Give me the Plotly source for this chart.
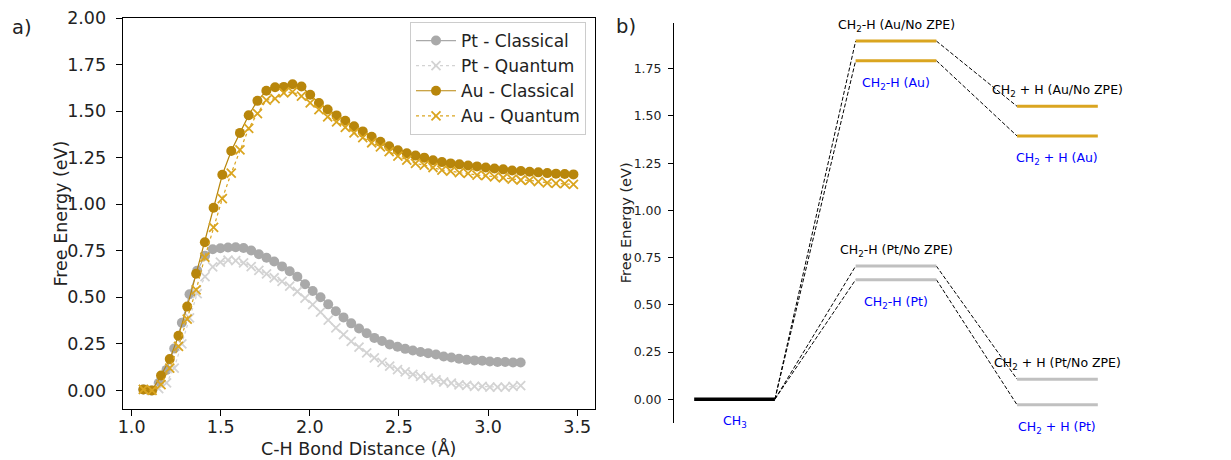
import plotly.graph_objects as go

# ---------------- data: panel a ----------------
au_x = [1.066, 1.115, 1.165, 1.214, 1.263, 1.312, 1.362, 1.411, 1.460, 1.509,
        1.559, 1.608, 1.657, 1.706, 1.756, 1.805, 1.854, 1.903, 1.953, 2.002,
        2.051, 2.100, 2.150, 2.199, 2.248, 2.297, 2.347, 2.396, 2.445, 2.494,
        2.544, 2.593, 2.642, 2.691, 2.741, 2.790, 2.839, 2.888, 2.938, 2.987,
        3.036, 3.085, 3.135, 3.184, 3.233, 3.282, 3.332, 3.381, 3.430, 3.479]
au_classical = [0.005, 0.000, 0.080, 0.168, 0.293, 0.450, 0.626, 0.796, 0.981, 1.158,
                1.286, 1.383, 1.478, 1.555, 1.609, 1.628, 1.630, 1.644, 1.632, 1.588,
                1.543, 1.509, 1.477, 1.448, 1.418, 1.391, 1.362, 1.335, 1.311, 1.290,
                1.274, 1.261, 1.250, 1.236, 1.226, 1.219, 1.214, 1.208, 1.203, 1.197,
                1.192, 1.187, 1.181, 1.178, 1.174, 1.171, 1.167, 1.164, 1.162, 1.160]
au_quantum = [0.005, 0.000, 0.031, 0.120, 0.236, 0.383, 0.540, 0.715, 0.876, 1.030,
              1.167, 1.292, 1.407, 1.487, 1.559, 1.567, 1.598, 1.603, 1.580, 1.544,
              1.508, 1.469, 1.442, 1.412, 1.383, 1.358, 1.330, 1.308, 1.282, 1.258,
              1.237, 1.219, 1.210, 1.197, 1.183, 1.178, 1.169, 1.165, 1.156, 1.153,
              1.147, 1.142, 1.135, 1.130, 1.128, 1.121, 1.115, 1.112, 1.110, 1.106]

pt_x = [1.066, 1.109, 1.152, 1.196, 1.239, 1.282, 1.325, 1.368, 1.412, 1.455,
        1.498, 1.541, 1.584, 1.628, 1.671, 1.714, 1.757, 1.800, 1.844, 1.887,
        1.930, 1.973, 2.016, 2.060, 2.103, 2.146, 2.189, 2.232, 2.276, 2.319,
        2.362, 2.405, 2.448, 2.492, 2.535, 2.578, 2.621, 2.664, 2.708, 2.751,
        2.794, 2.837, 2.880, 2.924, 2.967, 3.010, 3.053, 3.096, 3.140, 3.183]
pt_classical = [0.005, 0.000, 0.040, 0.110, 0.225, 0.363, 0.516, 0.643, 0.723, 0.758,
                0.763, 0.767, 0.769, 0.765, 0.751, 0.731, 0.712, 0.692, 0.666, 0.640,
                0.610, 0.570, 0.534, 0.500, 0.462, 0.425, 0.392, 0.360, 0.332, 0.307,
                0.282, 0.265, 0.247, 0.234, 0.223, 0.214, 0.206, 0.200, 0.193, 0.182,
                0.177, 0.170, 0.164, 0.161, 0.159, 0.155, 0.152, 0.152, 0.150, 0.150]
pt_quantum = [0.005, 0.000, 0.010, 0.040, 0.120, 0.250, 0.390, 0.520, 0.611, 0.663,
              0.689, 0.700, 0.697, 0.685, 0.665, 0.645, 0.626, 0.605, 0.585, 0.560,
              0.531, 0.495, 0.460, 0.420, 0.377, 0.336, 0.299, 0.263, 0.232, 0.202,
              0.174, 0.150, 0.130, 0.112, 0.099, 0.086, 0.075, 0.066, 0.057, 0.045,
              0.039, 0.030, 0.027, 0.021, 0.021, 0.018, 0.018, 0.018, 0.021, 0.025]

# ---------------- data: panel b ----------------
stage_names = ["CH3", "CH2-H", "CH2 + H"]
au_nozpe = [0.0, 1.897, 1.551]
au_zpe = [0.0, 1.793, 1.394]
pt_nozpe = [0.0, 0.705, 0.106]
pt_zpe = [0.0, 0.633, -0.030]

FONT = "DejaVu Sans"
W, H = 1231, 460

C_PT_C = "#a9a9a9"
C_PT_Q = "#d3d3d3"
C_AU_C = "#b8860b"
C_AU_Q = "#daa520"
C_PT_LVL = "#c0c0c0"
C_AU_LVL = "#daa520"

fig = go.Figure()

# ---- panel a traces ----
fig.add_trace(go.Scatter(x=pt_x, y=pt_classical, name="Pt - Classical", mode="lines+markers",
                         line=dict(color=C_PT_C, width=1.2),
                         marker=dict(symbol="circle", size=10, color=C_PT_C),
                         xaxis="x", yaxis="y"))
fig.add_trace(go.Scatter(x=pt_x, y=pt_quantum, name="Pt - Quantum", mode="lines+markers",
                         line=dict(color=C_PT_Q, width=1.2, dash="dot"),
                         marker=dict(symbol="x-thin", size=9, color=C_PT_Q,
                                     line=dict(width=1.8, color=C_PT_Q)),
                         xaxis="x", yaxis="y"))
fig.add_trace(go.Scatter(x=au_x, y=au_classical, name="Au - Classical", mode="lines+markers",
                         line=dict(color=C_AU_C, width=1.2),
                         marker=dict(symbol="circle", size=10, color=C_AU_C),
                         xaxis="x", yaxis="y"))
fig.add_trace(go.Scatter(x=au_x, y=au_quantum, name="Au - Quantum", mode="lines+markers",
                         line=dict(color=C_AU_Q, width=1.2, dash="dot"),
                         marker=dict(symbol="x-thin", size=9, color=C_AU_Q,
                                     line=dict(width=1.8, color=C_AU_Q)),
                         xaxis="x", yaxis="y"))

# ---- panel b traces ----
series_b = [
    (au_nozpe, C_AU_LVL),
    (au_zpe, C_AU_LVL),
    (pt_nozpe, C_PT_LVL),
    (pt_zpe, C_PT_LVL),
]
# dashed connectors
for vals, col in series_b:
    xs, ys = [], []
    for i in range(len(vals) - 1):
        xs += [2 * i + 1, 2 * (i + 1), None]
        ys += [vals[i], vals[i + 1], None]
    fig.add_trace(go.Scatter(x=xs, y=ys, mode="lines", showlegend=False,
                             line=dict(color="black", width=1, dash="4px,2px"),
                             hoverinfo="skip", xaxis="x2", yaxis="y2"))
# levels
for vals, col in series_b:
    xs, ys = [], []
    for i in range(1, len(vals)):
        xs += [2 * i, 2 * i + 1, None]
        ys += [vals[i], vals[i], None]
    fig.add_trace(go.Scatter(x=xs, y=ys, mode="lines", showlegend=False,
                             line=dict(color=col, width=3),
                             xaxis="x2", yaxis="y2"))
fig.add_trace(go.Scatter(x=[0, 1], y=[au_zpe[0], au_zpe[0]], mode="lines", showlegend=False,
                         line=dict(color="black", width=3.5), xaxis="x2", yaxis="y2"))

# level labels
def lab(base):
    return base.replace("CH2", "CH<sub>2</sub>").replace("CH3", "CH<sub>3</sub>")

annotations = []
for i in range(1, 3):
    for vals, metal in ((au_nozpe, "Au"), (pt_nozpe, "Pt")):
        annotations.append(dict(x=2 * i + 0.5, y=vals[i], xref="x2", yref="y2",
                                text=lab(f"{stage_names[i]} ({metal}/No ZPE)"),
                                showarrow=False, yshift=15.5,
                                xanchor="center", yanchor="middle",
                                font=dict(family=FONT, size=12.5, color="black")))
    for vals, metal in ((au_zpe, "Au"), (pt_zpe, "Pt")):
        annotations.append(dict(x=2 * i + 0.5, y=vals[i], xref="x2", yref="y2",
                                text=lab(f"{stage_names[i]} ({metal})"),
                                showarrow=False, yshift=-22.5,
                                xanchor="center", yanchor="middle",
                                font=dict(family=FONT, size=12.5, color="blue")))
annotations.append(dict(x=0.5, y=au_zpe[0], xref="x2", yref="y2", text=lab(stage_names[0]),
                        showarrow=False, yshift=-22, xanchor="center", yanchor="middle",
                        font=dict(family=FONT, size=12.5, color="blue")))

# axis titles and panel letters
def paper_note(px, py, text, size, angle=0):
    return dict(x=px / W, y=(H - py) / H, xref="paper", yref="paper", text=text,
                textangle=angle, showarrow=False, xanchor="center", yanchor="middle",
                font=dict(family=FONT, size=size, color="#222"))

annotations += [
    paper_note(60, 213.5, "Free Energy (eV)", 17.5, -90),
    paper_note(358.5, 448.5, "C-H Bond Distance (Å)", 17.5),
    paper_note(626, 223.3, "Free Energy (eV)", 14.5, -90),
    paper_note(22, 27.5, "a)", 19.5),
    paper_note(626, 26.5, "b)", 19.5),
]

tickfont_a = dict(family=FONT, size=17.5, color="#222")
tickfont_b = dict(family=FONT, size=12.5, color="#222")

fig.update_layout(
    width=W, height=H,
    margin=dict(l=0, r=0, t=0, b=0),
    paper_bgcolor="white", plot_bgcolor="white",
    showlegend=True,
    legend=dict(x=586 / W, y=(H - 22) / H, xanchor="right", yanchor="top",
                bgcolor="rgba(255,255,255,0.85)", bordercolor="#cccccc", borderwidth=1,
                font=dict(family=FONT, size=17, color="#222"),
                itemwidth=40),
    xaxis=dict(domain=[122.7 / W, 595 / W], range=[0.95, 3.60], anchor="y",
               tickvals=[1.0, 1.5, 2.0, 2.5, 3.0, 3.5], tickformat=".1f",
               showline=True, linecolor="black", linewidth=1.2, mirror=True,
               ticks="outside", ticklen=6, tickcolor="black", tickwidth=1.2,
               showgrid=False, zeroline=False, tickfont=tickfont_a, ticklabelstandoff=-4,
               automargin=False),
    yaxis=dict(domain=[(H - 409) / H, (H - 18) / H], range=[-0.1, 2.0], anchor="x",
               tickvals=[0, 0.25, 0.5, 0.75, 1.0, 1.25, 1.5, 1.75, 2.0], tickformat=".2f",
               showline=True, linecolor="black", linewidth=1.2, mirror=True,
               ticks="outside", ticklen=6, tickcolor="black", tickwidth=1.2,
               showgrid=False, zeroline=False, tickfont=tickfont_a, ticklabelstandoff=6,
               automargin=False),
    xaxis2=dict(domain=[674 / W, 1118 / W], range=[-0.25, 5.25], anchor="y2",
                showline=False, showticklabels=False, ticks="", showgrid=False, zeroline=False,
                automargin=False),
    yaxis2=dict(domain=[(H - 423) / H, (H - 22.7) / H], range=[-0.126, 1.994], anchor="x2",
                tickvals=[0, 0.25, 0.5, 0.75, 1.0, 1.25, 1.5, 1.75], tickformat=".2f",
                showline=True, linecolor="black", linewidth=1,
                ticks="outside", ticklen=5, tickcolor="black", tickwidth=1,
                showgrid=False, zeroline=False, tickfont=tickfont_b, ticklabelstandoff=4,
                automargin=False),
    annotations=annotations,
)

fig.write_html("out.html")
